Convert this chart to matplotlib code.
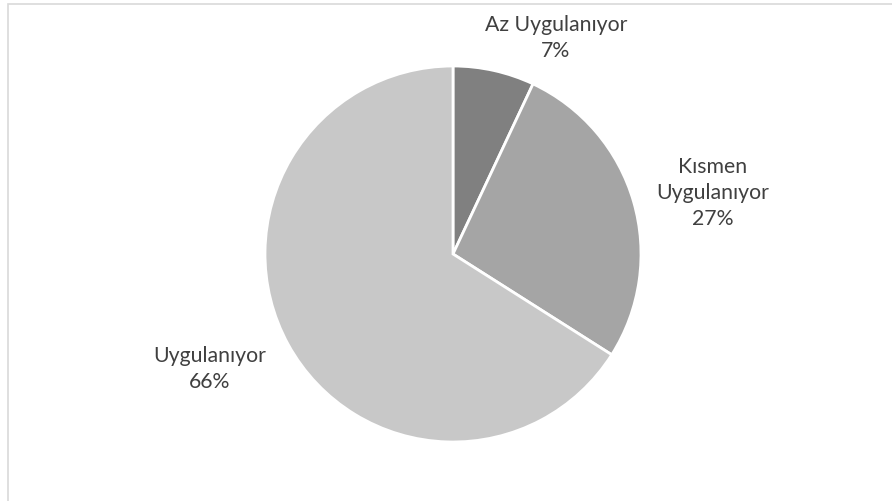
import matplotlib.pyplot as plt
from matplotlib.patches import Rectangle

labels = ["Az Uygulanıyor", "Kısmen\nUygulanıyor", "Uygulanıyor"]
shares = [7, 27, 66]
colors = ["#808080", "#a5a5a5", "#c8c8c8"]

# label anchor points in pixels (x, y from top)
label_pos = [(556, 38), (713, 193), (210, 369)]

W, H = 892, 502
fig = plt.figure(figsize=(W / 100, H / 100), dpi=100)
ax = fig.add_axes([0, 0, 1, 1])

ax.pie(shares, colors=colors, startangle=90, counterclock=False,
       center=(453, H - 255), radius=188,
       wedgeprops=dict(edgecolor="white", linewidth=2))

for lab, val, (x, y) in zip(labels, shares, label_pos):
    ax.text(x, H - y, f"{lab}\n{val}%", ha="center", va="center",
            fontsize=15.3, family="Lato", color="#404040", linespacing=1.4)

# chart border (only top and left visible in the reference)
ax.add_patch(Rectangle((8, -20), W + 20, H - 5 + 20, fill=False,
                       edgecolor="#d9d9d9", linewidth=1.2, clip_on=False))

ax.set_xlim(0, W)
ax.set_ylim(0, H)
ax.set_aspect("equal")
ax.axis("off")

fig.savefig("out.png", dpi=100)
